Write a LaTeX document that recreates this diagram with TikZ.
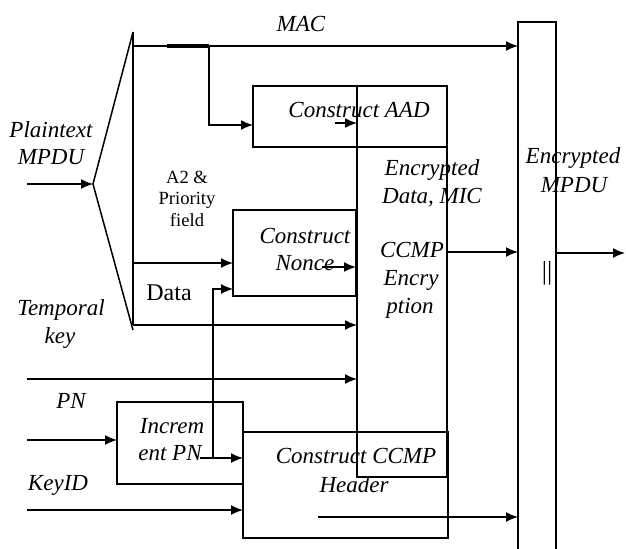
\documentclass[tikz,border=0pt]{standalone}
\usepackage{fontspec}
\setmainfont{Liberation Serif}
\usetikzlibrary{arrows.meta}

\begin{document}
\begin{tikzpicture}[x=0.5pt, y=-0.5pt, line width=0.75pt,
        mbox/.style = {draw, inner sep=0pt, outer sep=0pt},
        lbl/.style = {font=\fontsize{11.5}{13.5}\selectfont\itshape, inner sep=0pt, anchor=base},
        sml/.style = {font=\fontsize{9.3}{10.5}\selectfont, inner sep=0pt, anchor=base},
        arr/.style = {-{Latex[length=6pt, width=5pt]}}
    ]
        \useasboundingbox (0,0) rectangle (626,548);

        % blocks
        \node[mbox, minimum width=97pt, minimum height=30.5pt] (aad) at (350,116.5) {};
        \node[mbox, minimum width=45pt, minimum height=195.5pt] (enc) at (402,281.5) {};
        \node[mbox, minimum width=61.5pt, minimum height=43pt] (nonce) at (294.5,253) {};
        \node[mbox, minimum width=63pt, minimum height=41pt] (incr) at (180,443) {};
        \node[mbox, minimum width=102.5pt, minimum height=53pt] (hdr) at (345.5,485) {};
        \node[mbox, minimum width=19pt, minimum height=290pt, anchor=north] (mpdu) at (537,22) {};

        % splitter
        \coordinate (split) at (93,184);
        \coordinate (bmac) at (133,46);
        \coordinate (ba2) at (133,263);
        \coordinate (bdata) at (133,325);
        \draw (133,32) -- (split) -- (133,330);
        \draw (133,32) -- (bdata);

        % inputs
        \coordinate (pt) at (27,184);
        \coordinate (tk) at (27,379);
        \coordinate (pn) at (27,440);
        \coordinate (kid) at (27,510);
        \draw[arr] (pt) -- (split);
        \draw[arr] (tk) -- (tk -| enc.west);
        \draw[arr] (pn) -- (pn -| incr.west);
        \draw[arr] (kid) -- (kid -| hdr.west);

        % bus outputs
        \coordinate (tap) at (209,46);
        \draw[arr] (bmac) -- (bmac -| mpdu.west);
        \draw[line width=1.6pt] (167,46) -- (tap);
        \draw[arr] (tap) |- (aad.west |- 0,125);
        \draw[arr] (ba2) -- (ba2 -| nonce.west);
        \draw[arr] (bdata) -- (bdata -| enc.west);

        % increment PN outputs
        \coordinate (pnout) at (200,458);
        \coordinate (pnup) at (213,458);
        \draw[arr] (pnout) -- (pnout -| hdr.west);
        \draw[arr, line width=0.55pt] (pnup) |- (nonce.west |- 0,289);

        % internal arrows
        \coordinate (aadin) at (335,123);
        \coordinate (ncin) at (322,267);
        \coordinate (hdin) at (318,517);
        \draw[arr] (aadin) -- (aadin -| enc.west);
        \draw[arr] (ncin) -- (ncin -| nonce.east);
        \draw[arr] (hdin) -- (hdin -| mpdu.west);
        \draw[arr] (enc.east |- 0,252) -- (mpdu.west |- 0,252);
        \draw[arr] (mpdu.east |- 0,253) -- (625,253);

        % labels
        \node[lbl] (tmac) at (301,31) {MAC};
        \node[lbl] (tpt1) at (51,137) {Plaintext};
        \node[lbl] (tpt2) at (51,164) {MPDU};
        \node[sml] (ta1) at (187,183) {A2 \&};
        \node[sml] (ta2) at (187,204) {Priority};
        \node[sml] (ta3) at (187,226) {field};
        \node[lbl, font=\fontsize{12}{14}\selectfont] (tdata) at (169,300) {Data};
        \node[lbl] (ttk1) at (61,315) {Temporal};
        \node[lbl] (ttk2) at (60,343) {key};
        \node[lbl] (tpn) at (71,408) {PN};
        \node[lbl] (tkid) at (58,490) {KeyID};
        \node[lbl] (taad) at (359,117) {Construct AAD};
        \node[lbl] (tnc1) at (305,243) {Construct};
        \node[lbl] (tnc2) at (305,270) {Nonce};
        \node[lbl] (ted1) at (432,175) {Encrypted};
        \node[lbl] (ted2) at (432,203) {Data, MIC};
        \node[lbl] (tcc1) at (412,257) {CCMP};
        \node[lbl] (tcc2) at (411,285) {Encry};
        \node[lbl] (tcc3) at (410,313) {ption};
        \node[lbl] (tem1) at (573,163) {Encrypted};
        \node[lbl] (tem2) at (574,192) {MPDU};
        \node[inner sep=0pt, font=\fontsize{13}{15}\selectfont] (tpar) at (547,273) {||};
        \node[lbl] (tin1) at (172,433) {Increm};
        \node[lbl] (tin2) at (170,460) {ent PN};
        \node[lbl] (thd1) at (356,463) {Construct CCMP};
        \node[lbl] (thd2) at (354,492) {Header};

\end{tikzpicture}
\end{document}
